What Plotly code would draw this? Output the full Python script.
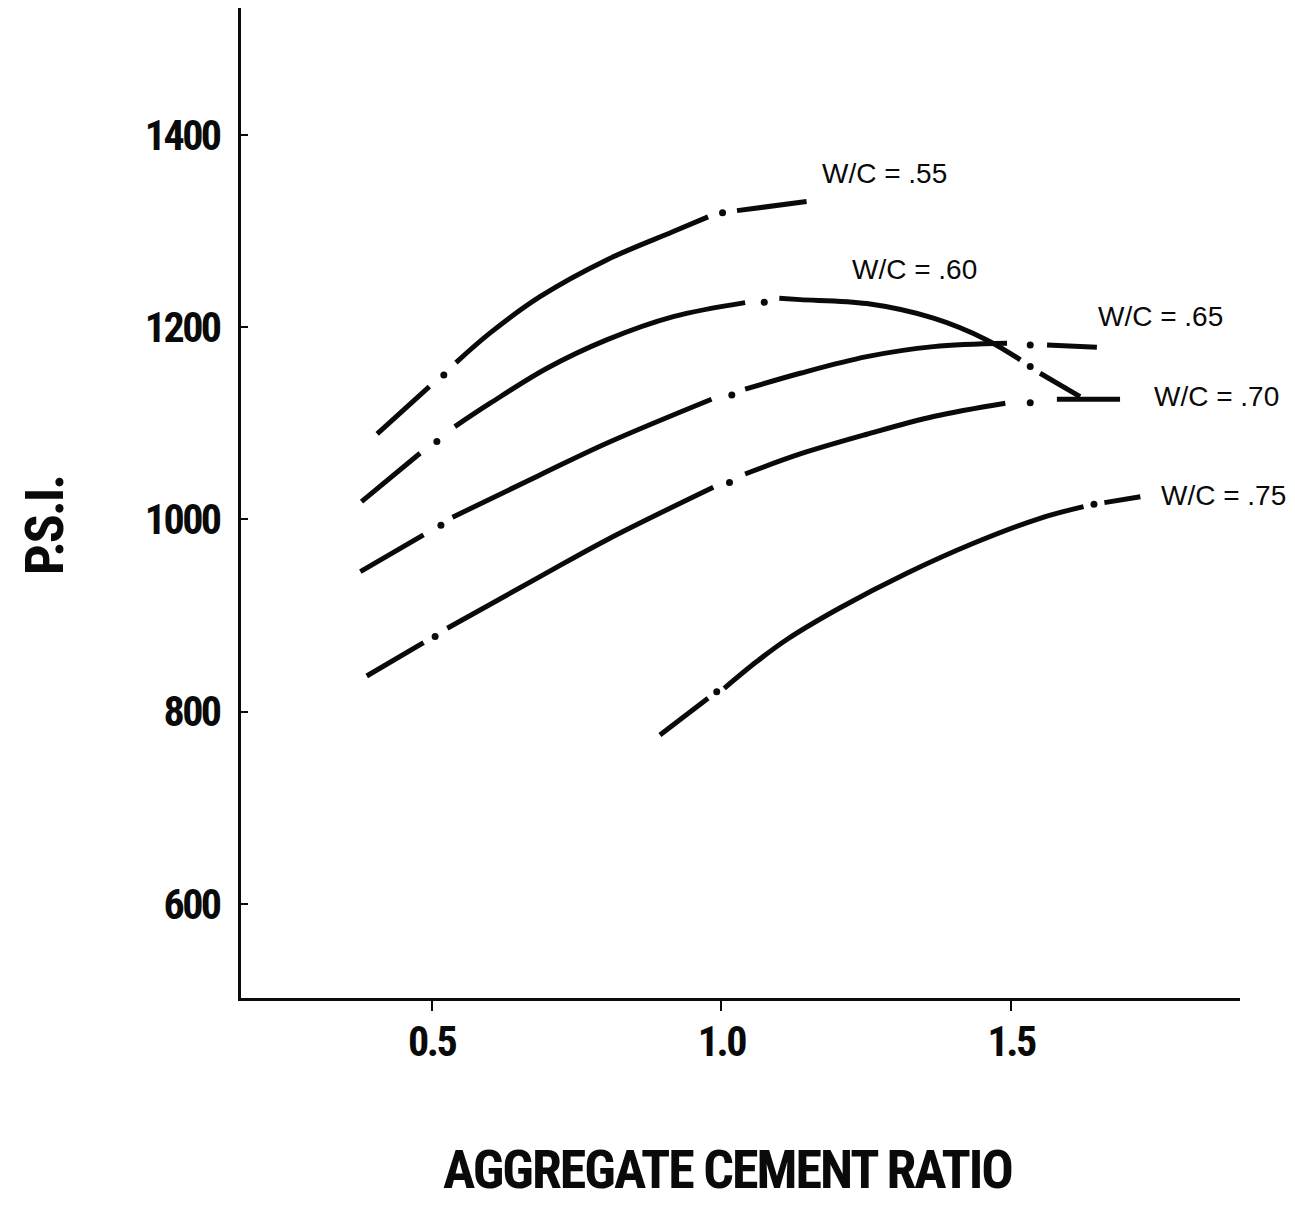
import plotly.graph_objects as go

# ---------------- data ----------------
x_ticks = [0.5, 1.0, 1.5]
x_tick_labels = ["0.5", "1.0", "1.5"]
y_ticks = [600, 800, 1000, 1200, 1400]
y_tick_labels = ["600", "800", "1000", "1200", "1400"]

series_names = ["W/C = .55", "W/C = .60", "W/C = .65", "W/C = .70", "W/C = .75"]

# curve segments (None = gap in the dash-dot line)
x_55 = [0.406, 0.496, None, 0.542, 0.601, 0.687, 0.802, 0.917, 0.977, None, 1.027, 1.147]
y_55 = [1088.9, 1138.1, None, 1163.1, 1194.0, 1231.7, 1269.9, 1299.4, 1314.7, None, 1321.2, 1330.6]
dx_55 = [0.521, 1.002]
dy_55 = [1150.3, 1319.1]

x_60 = [0.379, 0.480, None, 0.540, 0.601, 0.699, 0.802, 0.917, 1.041, None,
        1.100, 1.136, 1.251, 1.366, 1.458, 1.516, None, 1.550, 1.619]
y_60 = [1018.4, 1068.8, None, 1096.5, 1120.8, 1157.2, 1186.7, 1210.9, 1225.5, None,
        1230.1, 1228.6, 1224.5, 1209.3, 1186.7, 1165.9, None, 1152.0, 1127.7]
dx_60 = [0.509, 1.074, 1.533]
dy_60 = [1080.9, 1225.9, 1158.9]

x_65 = [0.377, 0.486, None, 0.536, 0.687, 0.802, 0.983, None,
        1.041, 1.136, 1.251, 1.366, 1.493, None, 1.562, 1.648]
y_65 = [945.6, 983.8, None, 1002.2, 1046.2, 1079.2, 1125.0, None,
        1135.4, 1152.0, 1169.3, 1179.7, 1183.2, None, 1181.5, 1179.1]
dx_65 = [0.516, 1.018, 1.533]
dy_65 = [993.9, 1129.4, 1181.5]

x_70 = [0.388, 0.486, None, 0.527, 0.687, 0.802, 0.986, None,
        1.041, 1.136, 1.251, 1.366, 1.490, None, 1.579, 1.688]
y_70 = [837.0, 871.7, None, 886.7, 940.4, 978.6, 1033.4, None,
        1047.2, 1068.0, 1088.5, 1107.0, 1120.8, None, 1125.0, 1125.0]
dx_70 = [0.506, 1.014, 1.533]
dy_70 = [878.0, 1038.2, 1121.4]

x_75 = [0.894, 0.977, None, 1.005, 1.061, 1.113, 1.205, 1.320, 1.435, 1.550, 1.625, None, 1.661, 1.723]
y_75 = [775.7, 813.8, None, 824.2, 852.0, 875.0, 908.0, 943.9, 975.1, 1001.1, 1013.2, None, 1017.4, 1023.6]
dx_75 = [0.992, 1.643]
dy_75 = [820.7, 1015.7]

curves = [
    (x_55, y_55, dx_55, dy_55),
    (x_60, y_60, dx_60, dy_60),
    (x_65, y_65, dx_65, dy_65),
    (x_70, y_70, dx_70, dy_70),
    (x_75, y_75, dx_75, dy_75),
]

# ---------------- styling ----------------
INK = "#0a0a0a"
COND = "Noto Sans ExtraCondensed, Roboto Condensed, Liberation Sans Narrow, DejaVu Sans Condensed, sans-serif"
REG = "Liberation Sans, Arial, Helvetica, sans-serif"


def tight(t, sp):
    return "<span style='letter-spacing:%.1fpx'><b>%s</b></span>" % (sp, t)


fig = go.Figure()
for (xs, ys, dxs, dys), name in zip(curves, series_names):
    fig.add_trace(go.Scatter(
        x=xs, y=ys, mode="lines", name=name,
        line=dict(color=INK, width=5, shape="spline", smoothing=1.0),
        connectgaps=False, showlegend=False, hoverinfo="skip"))
    fig.add_trace(go.Scatter(
        x=dxs, y=dys, mode="markers", name=name + " dots",
        marker=dict(color=INK, size=7), showlegend=False, hoverinfo="skip"))

# curve labels (positions in data coords)
label_pos = [(1.281, 1359.4), (1.334, 1259.5), (1.757, 1210.6), (1.854, 1127.4), (1.866, 1024.3)]
for name, (lx, ly) in zip(series_names, label_pos):
    fig.add_annotation(x=lx, y=ly, xref="x", yref="y", text=name, showarrow=False,
                       xanchor="center", yanchor="middle",
                       font=dict(family=REG, size=28, color=INK))

# axis titles
fig.add_annotation(x=0.487, y=-0.1737, xref="paper", yref="paper",
                   text=tight("AGGREGATE CEMENT RATIO", -2), showarrow=False,
                   xanchor="center", yanchor="middle",
                   font=dict(family=COND, size=54, color=INK))
fig.add_annotation(x=-0.196, y=0.477, xref="paper", yref="paper",
                   text=tight("P.S.I.", -2), showarrow=False, textangle=-90,
                   xanchor="center", yanchor="middle",
                   font=dict(family=COND, size=54, color=INK))

# page body has an 8px default margin: size the figure to fit the window
fig.update_layout(
    width=1279, height=1195,
    margin=dict(l=233, r=47, t=0, b=205),
    paper_bgcolor="white", plot_bgcolor="white",
    xaxis=dict(range=[0.171, 1.895], tickvals=x_ticks,
               ticktext=[tight(t, -2.5) for t in x_tick_labels],
               showgrid=False, zeroline=False, showline=True, linecolor=INK, linewidth=3,
               ticks="outside", ticklen=10, tickwidth=2, tickcolor=INK,
               ticklabelstandoff=-5,
               tickfont=dict(family=COND, size=42, color=INK)),
    yaxis=dict(range=[502, 1532], tickvals=y_ticks,
               ticktext=[tight(t, -2.5) for t in y_tick_labels],
               showgrid=False, zeroline=False, showline=True, linecolor=INK, linewidth=3,
               ticks="inside", ticklen=7, tickwidth=2, tickcolor=INK,
               ticklabelstandoff=10,
               tickfont=dict(family=COND, size=42, color=INK)),
)

fig.write_html("out.html")
